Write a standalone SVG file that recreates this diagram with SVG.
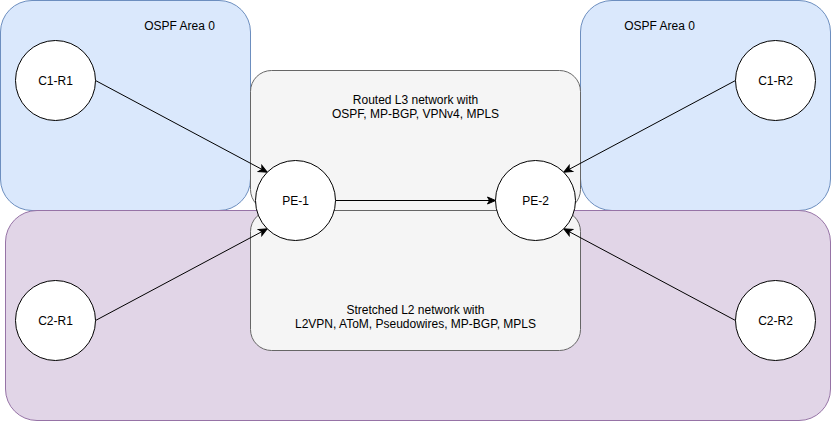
<svg xmlns="http://www.w3.org/2000/svg" width="831" height="421" viewBox="0 0 831 421">
<style>
text{font-family:"Liberation Sans",Arial,Helvetica,sans-serif;font-size:12px;fill:#000;text-anchor:middle}
.blue{fill:#dae8fc;stroke:#6c8ebf;stroke-width:1}
.purple{fill:#e1d5e7;stroke:#9673a6;stroke-width:1}
.gray{fill:#f5f5f5;stroke:#666666;stroke-width:1}
.node{fill:#ffffff;stroke:#000000;stroke-width:1}
.edge{fill:none;stroke:#000000;stroke-width:1;marker-end:url(#arrow)}
</style>
<defs>
<marker id="arrow" viewBox="0 0 10 10" refX="9" refY="5" markerWidth="10" markerHeight="10" markerUnits="userSpaceOnUse" orient="auto">
<path d="M1,1.5 L9,5 L1,8.5 L3,5 Z" fill="#000" stroke="#000" stroke-width="1"/>
</marker>
</defs>
<g id="area-left">
<rect class="blue" x="0.5" y="0.5" width="250" height="210" rx="31.5" ry="31.5"/>
<text x="179.5" y="29.5">OSPF Area 0</text>
</g>
<g id="area-right">
<rect class="blue" x="580.5" y="0.5" width="250" height="210" rx="31.5" ry="31.5"/>
<text x="659.5" y="29.5">OSPF Area 0</text>
</g>
<g id="l2-area">
<rect class="purple" x="5.5" y="210.5" width="825" height="210" rx="31.5" ry="31.5"/>
</g>
<g id="l3-network">
<rect class="gray" x="250.5" y="70.5" width="330" height="140" rx="21" ry="21"/>
<text x="415.5" y="103.5">Routed L3 network with</text>
<text x="415.5" y="117.5">OSPF, MP-BGP, VPNv4, MPLS</text>
</g>
<g id="l2-network">
<rect class="gray" x="250.5" y="210.5" width="330" height="140" rx="21" ry="21"/>
<text x="415.5" y="313.5">Stretched L2 network with</text>
<text x="415.5" y="327.5">L2VPN, AToM, Pseudowires, MP-BGP, MPLS</text>
</g>
<g id="connectors">
<line class="edge" x1="95.5" y1="80.5" x2="267.2" y2="172.2"/>
<line class="edge" x1="735.5" y1="80.5" x2="563.8" y2="172.2"/>
<line class="edge" x1="95.5" y1="320.5" x2="267.2" y2="228.8"/>
<line class="edge" x1="735.5" y1="320.5" x2="563.8" y2="228.8"/>
<line class="edge" x1="335.5" y1="200.5" x2="495.5" y2="200.5"/>
</g>
<g id="C1-R1">
<circle class="node" cx="55.5" cy="80.5" r="40"/>
<text x="55.5" y="84.5">C1-R1</text>
</g>
<g id="C1-R2">
<circle class="node" cx="775.5" cy="80.5" r="40"/>
<text x="775.5" y="84.5">C1-R2</text>
</g>
<g id="C2-R1">
<circle class="node" cx="55.5" cy="320.5" r="40"/>
<text x="55.5" y="324.5">C2-R1</text>
</g>
<g id="C2-R2">
<circle class="node" cx="775.5" cy="320.5" r="40"/>
<text x="775.5" y="324.5">C2-R2</text>
</g>
<g id="PE-1">
<circle class="node" cx="295.5" cy="200.5" r="40"/>
<text x="295.5" y="204.5">PE-1</text>
</g>
<g id="PE-2">
<circle class="node" cx="535.5" cy="200.5" r="40"/>
<text x="535.5" y="204.5">PE-2</text>
</g>
</svg>
